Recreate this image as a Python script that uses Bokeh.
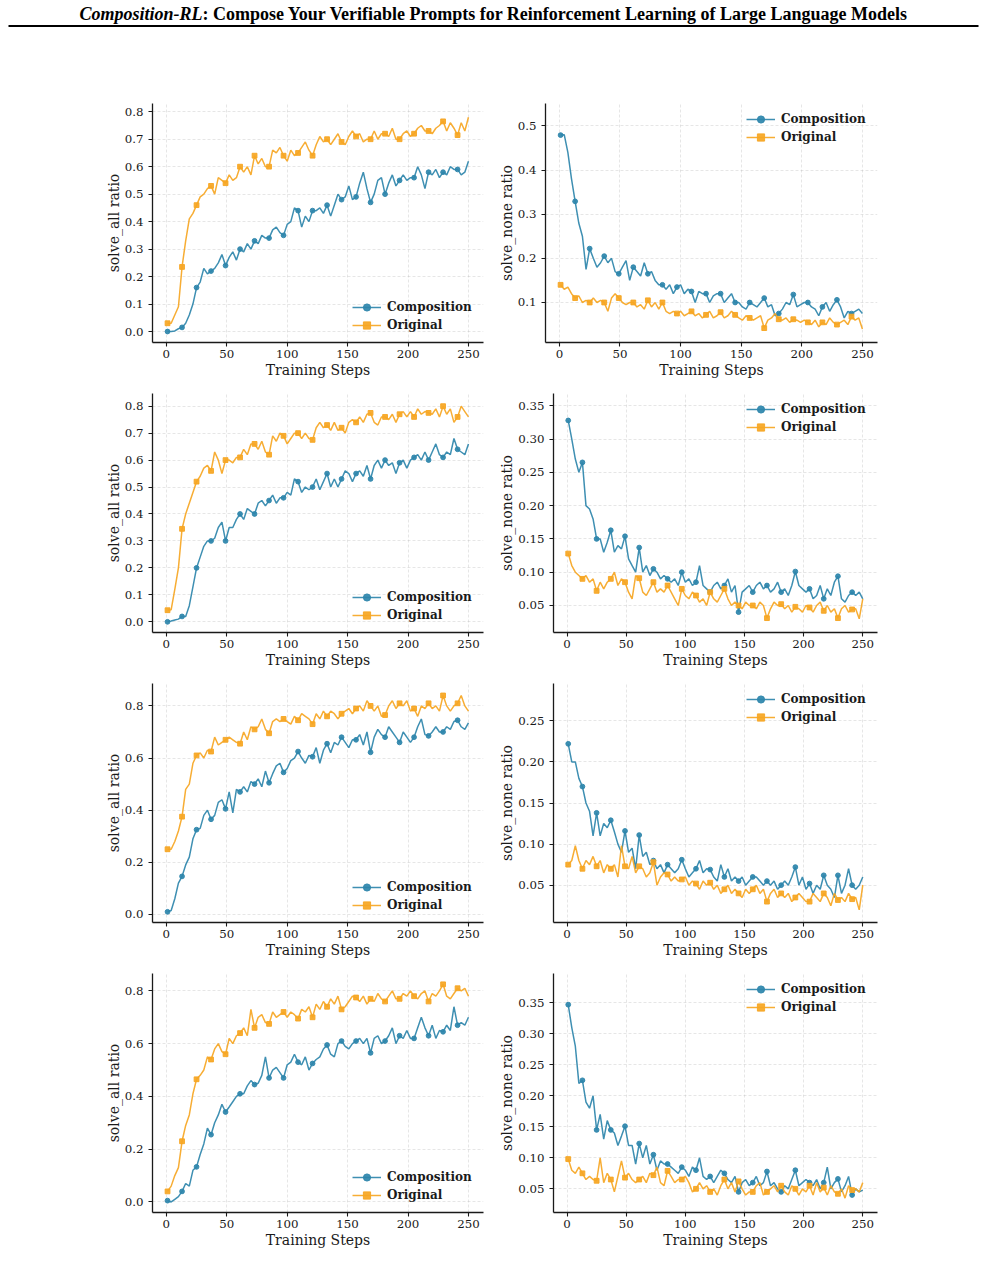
from bokeh.plotting import figure
from bokeh.layouts import column, row
from bokeh.models import FixedTicker, PrintfTickFormatter, Legend, LegendItem, Range1d
from bokeh.core.properties import value
from bokeh.embed import file_html
from bokeh.resources import INLINE

# ---------------------------------------------------------------- data
STEPS = list(range(1, 251, 3))          # logged training steps (1 ... 250)
MARK_EVERY = 4                          # one marker every 12 training steps

TITLE_MAIN = "Composition-RL"
TITLE_REST = ": Compose Your Verifiable Prompts for Reinforcement Learning of Large Language Models"
X_LABEL = "Training Steps"
X_TICKS = [0, 50, 100, 150, 200, 250]
SERIES = ["Composition", "Original"]

Y_TICKS_ALL_A = [0.0, 0.1, 0.2, 0.3, 0.4, 0.5, 0.6, 0.7, 0.8]
Y_TICKS_ALL_B = [0.0, 0.2, 0.4, 0.6, 0.8]
Y_TICKS_NONE_A = [0.1, 0.2, 0.3, 0.4, 0.5]
Y_TICKS_NONE_B = [0.05, 0.10, 0.15, 0.20, 0.25, 0.30, 0.35]

# run 1
run1_all_comp = [
    0.000, 0.000, 0.002, 0.010, 0.015, 0.030, 0.060, 0.100, 0.160, 0.180, 0.230, 0.210,
    0.220, 0.230, 0.250, 0.280, 0.240, 0.270, 0.290, 0.260, 0.300, 0.290, 0.320, 0.300,
    0.330, 0.320, 0.350, 0.340, 0.340, 0.370, 0.380, 0.360, 0.350, 0.390, 0.400, 0.450,
    0.440, 0.380, 0.420, 0.400, 0.440, 0.440, 0.450, 0.430, 0.460, 0.420, 0.460, 0.500,
    0.480, 0.490, 0.530, 0.480, 0.490, 0.540, 0.580, 0.520, 0.470, 0.500, 0.550, 0.560,
    0.500, 0.540, 0.570, 0.530, 0.550, 0.570, 0.550, 0.560, 0.560, 0.600, 0.570, 0.520,
    0.580, 0.570, 0.590, 0.560, 0.580, 0.570, 0.600, 0.590, 0.590, 0.570, 0.580, 0.620]
run1_all_orig = [
    0.030, 0.030, 0.060, 0.090, 0.235, 0.330, 0.410, 0.430, 0.460, 0.490, 0.500, 0.520,
    0.530, 0.500, 0.560, 0.550, 0.540, 0.570, 0.550, 0.560, 0.600, 0.580, 0.600, 0.570,
    0.640, 0.610, 0.630, 0.600, 0.600, 0.660, 0.650, 0.670, 0.640, 0.620, 0.660, 0.640,
    0.650, 0.670, 0.690, 0.660, 0.640, 0.680, 0.710, 0.690, 0.700, 0.680, 0.700, 0.720,
    0.690, 0.680, 0.710, 0.730, 0.710, 0.720, 0.690, 0.700, 0.700, 0.730, 0.700, 0.720,
    0.720, 0.710, 0.740, 0.700, 0.700, 0.720, 0.730, 0.710, 0.720, 0.740, 0.750, 0.730,
    0.730, 0.720, 0.740, 0.750, 0.765, 0.730, 0.760, 0.740, 0.715, 0.760, 0.730, 0.780]
run1_none_comp = [
    0.479, 0.480, 0.440, 0.380, 0.329, 0.280, 0.250, 0.175, 0.222, 0.200, 0.180, 0.190,
    0.205, 0.190, 0.200, 0.170, 0.165, 0.180, 0.195, 0.150, 0.180, 0.170, 0.160, 0.190,
    0.165, 0.170, 0.150, 0.140, 0.140, 0.130, 0.140, 0.120, 0.135, 0.140, 0.120, 0.130,
    0.125, 0.100, 0.125, 0.120, 0.120, 0.100, 0.115, 0.120, 0.120, 0.100, 0.110, 0.120,
    0.100, 0.100, 0.090, 0.085, 0.100, 0.095, 0.090, 0.100, 0.110, 0.090, 0.095, 0.070,
    0.075, 0.085, 0.100, 0.095, 0.118, 0.090, 0.095, 0.100, 0.100, 0.090, 0.085, 0.070,
    0.090, 0.100, 0.080, 0.095, 0.106, 0.090, 0.065, 0.080, 0.075, 0.080, 0.085, 0.075]
run1_none_orig = [
    0.140, 0.130, 0.135, 0.120, 0.110, 0.115, 0.100, 0.105, 0.100, 0.110, 0.100, 0.105,
    0.100, 0.080, 0.110, 0.120, 0.110, 0.100, 0.095, 0.100, 0.100, 0.090, 0.095, 0.085,
    0.105, 0.090, 0.100, 0.085, 0.100, 0.080, 0.075, 0.080, 0.075, 0.080, 0.070, 0.075,
    0.080, 0.070, 0.075, 0.065, 0.072, 0.080, 0.065, 0.070, 0.078, 0.065, 0.070, 0.080,
    0.072, 0.065, 0.060, 0.070, 0.065, 0.060, 0.065, 0.070, 0.042, 0.060, 0.065, 0.075,
    0.062, 0.060, 0.065, 0.055, 0.062, 0.060, 0.055, 0.060, 0.055, 0.050, 0.060, 0.045,
    0.055, 0.050, 0.065, 0.055, 0.050, 0.055, 0.060, 0.050, 0.068, 0.060, 0.065, 0.040]

# run 2
run2_all_comp = [
    0.000, 0.003, 0.007, 0.010, 0.020, 0.020, 0.060, 0.130, 0.200, 0.240, 0.280, 0.300,
    0.300, 0.310, 0.350, 0.370, 0.300, 0.350, 0.350, 0.380, 0.400, 0.380, 0.420, 0.410,
    0.400, 0.440, 0.450, 0.430, 0.450, 0.470, 0.440, 0.460, 0.460, 0.480, 0.470, 0.530,
    0.520, 0.480, 0.500, 0.490, 0.500, 0.530, 0.490, 0.520, 0.550, 0.500, 0.530, 0.500,
    0.530, 0.560, 0.550, 0.520, 0.550, 0.560, 0.540, 0.580, 0.530, 0.580, 0.600, 0.570,
    0.600, 0.580, 0.590, 0.550, 0.590, 0.600, 0.570, 0.600, 0.610, 0.620, 0.600, 0.630,
    0.600, 0.630, 0.660, 0.620, 0.610, 0.630, 0.620, 0.680, 0.640, 0.630, 0.620, 0.660]
run2_all_orig = [
    0.043, 0.045, 0.120, 0.200, 0.345, 0.400, 0.440, 0.480, 0.520, 0.540, 0.570, 0.580,
    0.560, 0.630, 0.600, 0.550, 0.600, 0.600, 0.590, 0.610, 0.610, 0.640, 0.620, 0.660,
    0.660, 0.640, 0.670, 0.630, 0.620, 0.690, 0.670, 0.700, 0.690, 0.660, 0.680, 0.700,
    0.700, 0.680, 0.700, 0.680, 0.675, 0.720, 0.740, 0.720, 0.730, 0.710, 0.740, 0.710,
    0.720, 0.700, 0.740, 0.750, 0.740, 0.760, 0.740, 0.770, 0.775, 0.740, 0.730, 0.760,
    0.760, 0.750, 0.770, 0.740, 0.770, 0.780, 0.760, 0.780, 0.760, 0.790, 0.770, 0.780,
    0.775, 0.770, 0.790, 0.760, 0.800, 0.770, 0.790, 0.740, 0.760, 0.800, 0.780, 0.760]
run2_none_comp = [
    0.328, 0.300, 0.270, 0.250, 0.265, 0.200, 0.195, 0.180, 0.150, 0.150, 0.130, 0.145,
    0.163, 0.130, 0.140, 0.135, 0.154, 0.120, 0.110, 0.100, 0.137, 0.100, 0.110, 0.095,
    0.105, 0.100, 0.090, 0.095, 0.090, 0.085, 0.090, 0.080, 0.100, 0.085, 0.090, 0.080,
    0.085, 0.110, 0.080, 0.075, 0.070, 0.080, 0.085, 0.075, 0.080, 0.090, 0.070, 0.080,
    0.040, 0.070, 0.075, 0.080, 0.070, 0.080, 0.085, 0.075, 0.080, 0.070, 0.075, 0.085,
    0.070, 0.075, 0.065, 0.080, 0.101, 0.080, 0.075, 0.070, 0.075, 0.060, 0.065, 0.080,
    0.060, 0.075, 0.065, 0.085, 0.094, 0.060, 0.055, 0.065, 0.070, 0.065, 0.070, 0.060]
run2_none_orig = [
    0.128, 0.110, 0.100, 0.095, 0.090, 0.095, 0.085, 0.090, 0.072, 0.085, 0.075, 0.085,
    0.090, 0.100, 0.080, 0.090, 0.085, 0.070, 0.060, 0.095, 0.091, 0.070, 0.065, 0.075,
    0.085, 0.070, 0.075, 0.070, 0.080, 0.070, 0.060, 0.050, 0.075, 0.065, 0.060, 0.070,
    0.065, 0.055, 0.060, 0.050, 0.070, 0.060, 0.055, 0.065, 0.075, 0.060, 0.050, 0.055,
    0.050, 0.045, 0.055, 0.050, 0.050, 0.045, 0.055, 0.050, 0.031, 0.045, 0.055, 0.050,
    0.052, 0.045, 0.050, 0.040, 0.048, 0.045, 0.040, 0.050, 0.047, 0.040, 0.050, 0.055,
    0.042, 0.050, 0.040, 0.045, 0.031, 0.045, 0.050, 0.040, 0.044, 0.045, 0.030, 0.060]

# run 3
run3_all_comp = [
    0.010, 0.015, 0.060, 0.120, 0.146, 0.190, 0.220, 0.290, 0.325, 0.330, 0.380, 0.400,
    0.365, 0.380, 0.430, 0.440, 0.405, 0.470, 0.390, 0.480, 0.470, 0.490, 0.470, 0.510,
    0.500, 0.520, 0.490, 0.550, 0.505, 0.540, 0.570, 0.580, 0.545, 0.560, 0.590, 0.600,
    0.625, 0.600, 0.580, 0.610, 0.605, 0.640, 0.580, 0.630, 0.655, 0.620, 0.660, 0.650,
    0.680, 0.660, 0.640, 0.670, 0.670, 0.690, 0.650, 0.700, 0.622, 0.680, 0.710, 0.690,
    0.680, 0.720, 0.700, 0.680, 0.660, 0.700, 0.680, 0.660, 0.680, 0.720, 0.750, 0.690,
    0.685, 0.700, 0.720, 0.700, 0.700, 0.720, 0.710, 0.740, 0.745, 0.720, 0.710, 0.735]
run3_all_orig = [
    0.250, 0.250, 0.280, 0.320, 0.375, 0.480, 0.500, 0.580, 0.610, 0.620, 0.600, 0.630,
    0.625, 0.680, 0.650, 0.660, 0.670, 0.680, 0.670, 0.660, 0.655, 0.700, 0.670, 0.720,
    0.710, 0.720, 0.750, 0.710, 0.695, 0.740, 0.750, 0.740, 0.750, 0.740, 0.730, 0.760,
    0.745, 0.770, 0.760, 0.750, 0.730, 0.770, 0.750, 0.780, 0.760, 0.780, 0.770, 0.750,
    0.770, 0.780, 0.790, 0.770, 0.790, 0.800, 0.780, 0.820, 0.800, 0.780, 0.800, 0.760,
    0.765, 0.800, 0.820, 0.790, 0.810, 0.800, 0.820, 0.780, 0.790, 0.760, 0.800, 0.790,
    0.810, 0.790, 0.800, 0.780, 0.840, 0.800, 0.780, 0.800, 0.810, 0.840, 0.800, 0.780]
run3_none_comp = [
    0.222, 0.200, 0.200, 0.180, 0.170, 0.150, 0.140, 0.110, 0.138, 0.110, 0.125, 0.120,
    0.129, 0.115, 0.100, 0.090, 0.116, 0.090, 0.095, 0.070, 0.111, 0.085, 0.090, 0.075,
    0.080, 0.070, 0.075, 0.065, 0.075, 0.070, 0.065, 0.070, 0.081, 0.070, 0.060, 0.065,
    0.070, 0.080, 0.065, 0.070, 0.069, 0.060, 0.055, 0.075, 0.060, 0.070, 0.055, 0.060,
    0.055, 0.060, 0.050, 0.055, 0.060, 0.060, 0.055, 0.050, 0.055, 0.050, 0.055, 0.045,
    0.050, 0.055, 0.050, 0.060, 0.072, 0.050, 0.060, 0.045, 0.052, 0.040, 0.050, 0.045,
    0.062, 0.050, 0.045, 0.035, 0.062, 0.040, 0.050, 0.070, 0.050, 0.045, 0.050, 0.060]
run3_none_orig = [
    0.075, 0.080, 0.098, 0.080, 0.070, 0.080, 0.075, 0.085, 0.073, 0.080, 0.065, 0.075,
    0.070, 0.075, 0.060, 0.098, 0.073, 0.070, 0.085, 0.065, 0.073, 0.070, 0.060, 0.065,
    0.078, 0.050, 0.060, 0.065, 0.063, 0.055, 0.060, 0.055, 0.057, 0.060, 0.050, 0.055,
    0.052, 0.045, 0.055, 0.050, 0.053, 0.045, 0.050, 0.040, 0.045, 0.050, 0.040, 0.045,
    0.040, 0.035, 0.045, 0.040, 0.045, 0.050, 0.040, 0.045, 0.030, 0.040, 0.045, 0.035,
    0.040, 0.035, 0.040, 0.030, 0.035, 0.040, 0.035, 0.030, 0.030, 0.040, 0.035, 0.030,
    0.040, 0.035, 0.025, 0.040, 0.032, 0.035, 0.030, 0.040, 0.033, 0.035, 0.020, 0.050]

# run 4
run4_all_comp = [
    0.005, 0.000, 0.010, 0.020, 0.040, 0.070, 0.060, 0.120, 0.133, 0.180, 0.220, 0.280,
    0.255, 0.300, 0.330, 0.370, 0.341, 0.360, 0.380, 0.400, 0.410, 0.410, 0.440, 0.460,
    0.445, 0.450, 0.480, 0.550, 0.470, 0.500, 0.510, 0.490, 0.470, 0.520, 0.530, 0.560,
    0.530, 0.520, 0.550, 0.500, 0.525, 0.540, 0.550, 0.580, 0.595, 0.560, 0.550, 0.600,
    0.610, 0.590, 0.580, 0.600, 0.610, 0.620, 0.600, 0.620, 0.565, 0.620, 0.630, 0.600,
    0.610, 0.630, 0.660, 0.600, 0.630, 0.620, 0.650, 0.620, 0.620, 0.660, 0.700, 0.660,
    0.630, 0.670, 0.620, 0.650, 0.645, 0.670, 0.650, 0.740, 0.670, 0.680, 0.670, 0.700]
run4_all_orig = [
    0.040, 0.060, 0.100, 0.130, 0.230, 0.290, 0.330, 0.410, 0.465, 0.480, 0.500, 0.550,
    0.540, 0.580, 0.600, 0.570, 0.560, 0.620, 0.600, 0.630, 0.640, 0.660, 0.630, 0.730,
    0.660, 0.700, 0.710, 0.680, 0.675, 0.720, 0.700, 0.710, 0.720, 0.700, 0.720, 0.710,
    0.695, 0.730, 0.720, 0.740, 0.700, 0.750, 0.730, 0.760, 0.740, 0.770, 0.750, 0.780,
    0.730, 0.740, 0.760, 0.780, 0.775, 0.760, 0.780, 0.750, 0.770, 0.760, 0.790, 0.770,
    0.760, 0.780, 0.800, 0.770, 0.770, 0.790, 0.780, 0.800, 0.780, 0.770, 0.790, 0.800,
    0.760, 0.790, 0.780, 0.800, 0.825, 0.780, 0.770, 0.790, 0.810, 0.800, 0.810, 0.780]
run4_none_comp = [
    0.347, 0.310, 0.280, 0.220, 0.225, 0.190, 0.180, 0.200, 0.145, 0.170, 0.130, 0.160,
    0.145, 0.140, 0.120, 0.135, 0.151, 0.120, 0.120, 0.090, 0.123, 0.100, 0.120, 0.090,
    0.105, 0.080, 0.095, 0.090, 0.090, 0.085, 0.080, 0.075, 0.085, 0.080, 0.070, 0.085,
    0.080, 0.100, 0.070, 0.065, 0.070, 0.060, 0.070, 0.080, 0.075, 0.065, 0.060, 0.070,
    0.045, 0.060, 0.065, 0.055, 0.060, 0.070, 0.055, 0.060, 0.078, 0.055, 0.060, 0.050,
    0.045, 0.055, 0.050, 0.065, 0.080, 0.055, 0.060, 0.065, 0.060, 0.055, 0.065, 0.050,
    0.060, 0.085, 0.050, 0.060, 0.066, 0.045, 0.055, 0.070, 0.040, 0.050, 0.045, 0.048]
run4_none_orig = [
    0.098, 0.080, 0.075, 0.085, 0.075, 0.065, 0.070, 0.065, 0.063, 0.100, 0.060, 0.075,
    0.065, 0.045, 0.070, 0.095, 0.068, 0.075, 0.065, 0.060, 0.065, 0.070, 0.060, 0.075,
    0.072, 0.085, 0.060, 0.055, 0.079, 0.070, 0.060, 0.065, 0.065, 0.070, 0.060, 0.045,
    0.050, 0.060, 0.050, 0.055, 0.045, 0.050, 0.040, 0.055, 0.065, 0.050, 0.060, 0.045,
    0.062, 0.050, 0.040, 0.045, 0.045, 0.055, 0.060, 0.040, 0.045, 0.050, 0.055, 0.045,
    0.055, 0.045, 0.040, 0.055, 0.050, 0.040, 0.050, 0.045, 0.055, 0.040, 0.060, 0.045,
    0.052, 0.040, 0.055, 0.045, 0.042, 0.050, 0.035, 0.055, 0.048, 0.050, 0.045, 0.060]

# ---------------------------------------------------------------- style
BLUE = "#2E86AB"
ORANGE = "#F6A623"
SERIF = "DejaVu Serif"
INK = "#1a1a1a"

ROW_H = 290
FRAME_TOP = 8
FRAME_H = 239
LEFT_W = 490
RIGHT_W = 495


def make_panel(comp, orig, ylabel, yticks, yfmt, yrange, border_left, width,
               border_right, legend_loc):
    p = figure(width=width, height=ROW_H, output_backend="svg",
               toolbar_location=None,
               x_range=Range1d(-11.45, 262.45), y_range=Range1d(*yrange),
               min_border_left=border_left, min_border_right=border_right,
               min_border_top=FRAME_TOP,
               min_border_bottom=ROW_H - FRAME_TOP - FRAME_H)
    p.outline_line_color = None
    p.background_fill_color = "white"
    p.border_fill_color = "white"

    for ax in (p.xaxis[0], p.yaxis[0]):
        ax.axis_line_color = INK
        ax.axis_line_width = 1.3
        ax.major_tick_line_color = INK
        ax.major_tick_line_width = 1.1
        ax.major_tick_out = 4
        ax.major_tick_in = 0
        ax.minor_tick_line_color = None
        ax.major_label_text_font = SERIF
        ax.major_label_text_font_size = "11.8px"
        ax.major_label_text_color = INK
        ax.axis_label_text_font = SERIF
        ax.axis_label_text_font_size = "14px"
        ax.axis_label_text_font_style = "normal"
        ax.axis_label_text_color = INK

    p.xaxis.ticker = FixedTicker(ticks=X_TICKS)
    p.xaxis.axis_label = X_LABEL
    p.xaxis.major_label_standoff = 3
    p.xaxis.axis_label_standoff = 1
    p.yaxis.ticker = FixedTicker(ticks=yticks)
    p.yaxis.formatter = PrintfTickFormatter(format=yfmt)
    p.yaxis.axis_label = ylabel
    p.yaxis.major_label_standoff = 5
    p.yaxis.axis_label_standoff = 0

    p.grid.grid_line_color = "#b0b0b0"
    p.grid.grid_line_alpha = 0.4
    p.grid.grid_line_dash = "3 2"
    p.grid.grid_line_width = 0.8

    items = []
    for name, ys, color, marker in ((SERIES[0], comp, BLUE, "circle"),
                                    (SERIES[1], orig, ORANGE, "square")):
        ln = p.line(STEPS, ys, line_color=color, line_width=1.5, line_alpha=0.92)
        mk = p.scatter(STEPS[::MARK_EVERY], ys[::MARK_EVERY], marker=marker,
                       size=4.8, fill_color=color, line_color=color,
                       fill_alpha=0.92, line_alpha=0.92)
        items.append(LegendItem(label=name, renderers=[ln, mk]))

    legend = Legend(items=items, location=legend_loc)
    legend.label_text_font = SERIF
    legend.label_text_font_style = "bold"
    legend.label_text_font_size = "12px"
    legend.label_text_color = INK
    legend.background_fill_alpha = 0
    legend.border_line_color = None
    legend.padding = 0
    legend.margin = 0
    legend.spacing = 0
    legend.glyph_width = 29
    legend.glyph_height = 18
    legend.label_height = 18
    legend.label_standoff = 6
    p.add_layout(legend, "center")
    return p


# header with the paper title and a rule underneath
header = figure(width=985, height=95, output_backend="svg", toolbar_location=None,
                x_range=Range1d(0, 985), y_range=Range1d(95, 0),
                min_border=0, min_border_left=0, min_border_right=0,
                min_border_top=0, min_border_bottom=0)
header.axis.visible = False
header.grid.visible = False
header.outline_line_color = None
TITLE_SPLIT_X = 202
header.text(x=[TITLE_SPLIT_X], y=[13.5], text=[TITLE_MAIN],
            text_font=value("Liberation Serif"), text_font_style="bold italic",
            text_font_size="18px", text_align="right", text_baseline="alphabetic",
            text_color="black")
header.text(x=[TITLE_SPLIT_X], y=[13.5], text=[TITLE_REST],
            text_font=value("Liberation Serif"), text_font_style="bold",
            text_font_size="18px", text_align="left", text_baseline="alphabetic",
            text_color="black")
header.segment(x0=[8], y0=[25.5], x1=[978], y1=[25.5], line_color="black", line_width=2)

LEFT_LEG = (200, 8)
panels = [
    (run1_all_comp, run1_all_orig, run1_none_comp, run1_none_orig,
     Y_TICKS_ALL_A, (-0.04, 0.83), Y_TICKS_NONE_A, "%.1f", (0.0094, 0.5506), 55, (201, 196)),
    (run2_all_comp, run2_all_orig, run2_none_comp, run2_none_orig,
     Y_TICKS_ALL_A, (-0.0396, 0.847), Y_TICKS_NONE_B, "%.2f", (0.0094, 0.3685), 63, (193, 196)),
    (run3_all_comp, run3_all_orig, run3_none_comp, run3_none_orig,
     Y_TICKS_ALL_B, (-0.031, 0.886), Y_TICKS_NONE_B, "%.2f", (0.0046, 0.2954), 63, (193, 196)),
    (run4_all_comp, run4_all_orig, run4_none_comp, run4_none_orig,
     Y_TICKS_ALL_B, (-0.040, 0.866), Y_TICKS_NONE_B, "%.2f", (0.0118, 0.3973), 63, (193, 196)),
]

rows = [header]
for (ac, ao, nc, no, yt_all, yr_all, yt_none, fmt_none, yr_none, bl_right, leg_right) in panels:
    left = make_panel(ac, ao, "solve_all ratio", yt_all, "%.1f", yr_all,
                      152, LEFT_W, LEFT_W - 483, LEFT_LEG)
    right = make_panel(nc, no, "solve_none ratio", yt_none, fmt_none, yr_none,
                       bl_right, RIGHT_W, RIGHT_W - (877 - 490), leg_right)
    rows.append(row(left, right))

layout = column(*rows)
open("out.html", "w").write(file_html(layout, INLINE))
